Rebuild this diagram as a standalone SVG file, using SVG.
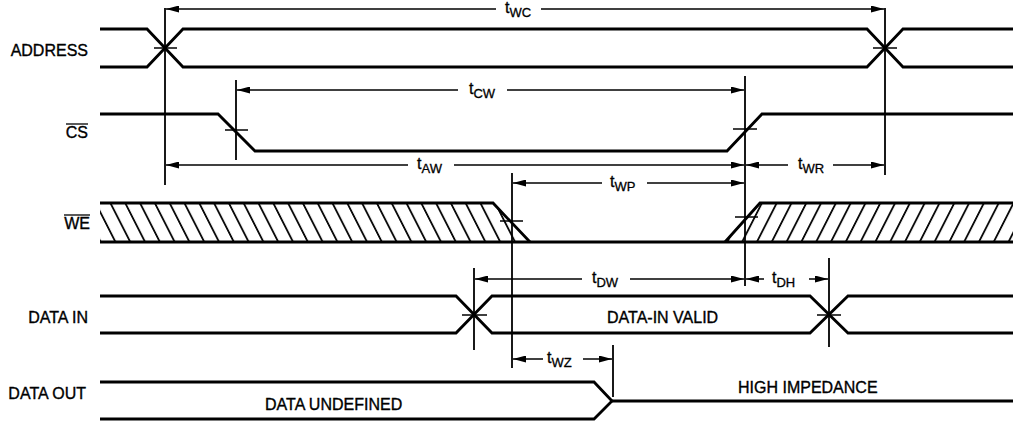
<svg xmlns="http://www.w3.org/2000/svg" width="1013" height="425" viewBox="0 0 1013 425">
<style>
.sig{fill:none;stroke:#000;stroke-width:2.8;stroke-linejoin:miter}
.ref{stroke:#000;stroke-width:1.8;fill:none}
.tick{stroke:#000;stroke-width:1.5}
.dim{stroke:#000;stroke-width:1.5;fill:none;marker-end:url(#ah)}
.lbl{font-family:"Liberation Sans",Arial,sans-serif;font-size:16px;fill:#000;stroke:#000;stroke-width:0.35}
.t{font-family:"Liberation Sans",Arial,sans-serif;font-size:16px;fill:#000;stroke:#000;stroke-width:0.3}
.sub{font-size:13px}
</style>
<defs>
<marker id="ah" viewBox="0 0 13 7" refX="13" refY="3.5" markerWidth="13" markerHeight="7" markerUnits="userSpaceOnUse" orient="auto"><path d="M0,0 L13,3.5 L0,7 z" fill="#000"/></marker>
<pattern id="hatchL" patternUnits="userSpaceOnUse" width="14.8" height="40" patternTransform="skewX(27)"><line x1="7" y1="-1" x2="7" y2="41" stroke="#000" stroke-width="2"/></pattern>
<pattern id="hatchR" patternUnits="userSpaceOnUse" width="14.8" height="40" patternTransform="skewX(-27)"><line x1="7" y1="-1" x2="7" y2="41" stroke="#000" stroke-width="2"/></pattern>
</defs>
<rect width="1013" height="425" fill="#fff"/>

<g id="labels">
<text class="lbl" x="88" y="56" text-anchor="end">ADDRESS</text>
<text class="lbl" x="88" y="138" text-anchor="end">CS</text>
<line x1="66" y1="124" x2="88" y2="124" stroke="#000" stroke-width="1.3"/>
<text class="lbl" x="90" y="229" text-anchor="end">WE</text>
<line x1="64" y1="215" x2="90" y2="215" stroke="#000" stroke-width="1.3"/>
<text class="lbl" x="88" y="323" text-anchor="end">DATA IN</text>
<text class="lbl" x="86" y="399" text-anchor="end">DATA OUT</text>
</g>

<g id="address">
<path class="sig" d="M100,29 H147 L183,67 H867 L903,29 H1013"/>
<path class="sig" d="M100,67 H147 L183,29 H867 L903,67 H1013"/>
</g>

<g id="cs">
<path class="sig" d="M100,114 H218 L255,151 H727 L762,114 H1013"/>
</g>

<g id="we">
<polygon points="100,203 493,203 530,242 100,242" fill="url(#hatchL)"/>
<polygon points="760,203 1013,203 1013,242 725,242" fill="url(#hatchR)"/>
<path class="sig" d="M100,203 H493 L530,242"/>
<path class="sig" d="M100,242 H1013"/>
<path class="sig" d="M725,242 L760,203 H1013"/>
</g>

<g id="data-in">
<path class="sig" d="M100,296 H456 L492,333 H810 L848,296 H1013"/>
<path class="sig" d="M100,333 H456 L492,296 H810 L848,333 H1013"/>
<text class="lbl" x="607" y="323">DATA-IN VALID</text>
</g>

<g id="data-out">
<path class="sig" d="M100,382 H594 L612,401 L594,419 H100"/>
<path class="sig" d="M612,401 H1013"/>
<text class="lbl" x="265" y="410">DATA UNDEFINED</text>
<text class="lbl" x="738" y="393">HIGH IMPEDANCE</text>
</g>

<g id="connectors">
<line class="ref" x1="165" y1="8" x2="165" y2="185"/>
<line class="ref" x1="885" y1="8" x2="885" y2="175"/>
<line class="ref" x1="236" y1="80" x2="236" y2="160"/>
<line class="ref" x1="745" y1="76" x2="745" y2="286"/>
<line class="ref" x1="512" y1="173" x2="512" y2="368"/>
<line class="ref" x1="474" y1="268" x2="474" y2="350"/>
<line class="ref" x1="829" y1="258" x2="829" y2="347"/>
<line class="ref" x1="613" y1="345" x2="613" y2="397"/>

<line class="tick" x1="154" y1="48" x2="177" y2="48"/>
<line class="tick" x1="873" y1="48" x2="897" y2="48"/>
<line class="tick" x1="225" y1="130" x2="248" y2="130"/>
<line class="tick" x1="733" y1="129" x2="757" y2="129"/>
<line class="tick" x1="500" y1="221" x2="523" y2="221"/>
<line class="tick" x1="735" y1="217" x2="758" y2="217"/>
<line class="tick" x1="462" y1="315" x2="487" y2="315"/>
<line class="tick" x1="817" y1="315" x2="841" y2="315"/>

<line class="dim" x1="496" y1="9" x2="166" y2="9"/>
<line class="dim" x1="541" y1="9" x2="884" y2="9"/>
<line class="dim" x1="458" y1="90" x2="237" y2="90"/>
<line class="dim" x1="507" y1="90" x2="744" y2="90"/>
<line class="dim" x1="408" y1="165" x2="166" y2="165"/>
<line class="dim" x1="454" y1="165" x2="744" y2="165"/>
<line class="dim" x1="788" y1="165" x2="746" y2="165"/>
<line class="dim" x1="833" y1="165" x2="884" y2="165"/>
<line class="dim" x1="602" y1="183" x2="513" y2="183"/>
<line class="dim" x1="647" y1="183" x2="744" y2="183"/>
<line class="dim" x1="582" y1="279" x2="475" y2="279"/>
<line class="dim" x1="630" y1="279" x2="744" y2="279"/>
<line class="dim" x1="764" y1="279" x2="746" y2="279"/>
<line class="dim" x1="809" y1="279" x2="828" y2="279"/>
<line class="dim" x1="543" y1="359" x2="513" y2="359"/>
<line class="dim" x1="583" y1="359" x2="612" y2="359"/>
</g>

<g id="timing-labels">
<text class="t" x="505" y="13">t<tspan class="sub" dy="4">WC</tspan></text>
<text class="t" x="469" y="94">t<tspan class="sub" dy="4">CW</tspan></text>
<text class="t" x="417" y="169">t<tspan class="sub" dy="4">AW</tspan></text>
<text class="t" x="798" y="169">t<tspan class="sub" dy="4">WR</tspan></text>
<text class="t" x="610" y="187">t<tspan class="sub" dy="4">WP</tspan></text>
<text class="t" x="592" y="283">t<tspan class="sub" dy="4">DW</tspan></text>
<text class="t" x="772" y="283">t<tspan class="sub" dy="4">DH</tspan></text>
<text class="t" x="547" y="363">t<tspan class="sub" dy="4">WZ</tspan></text>
</g>
</svg>
